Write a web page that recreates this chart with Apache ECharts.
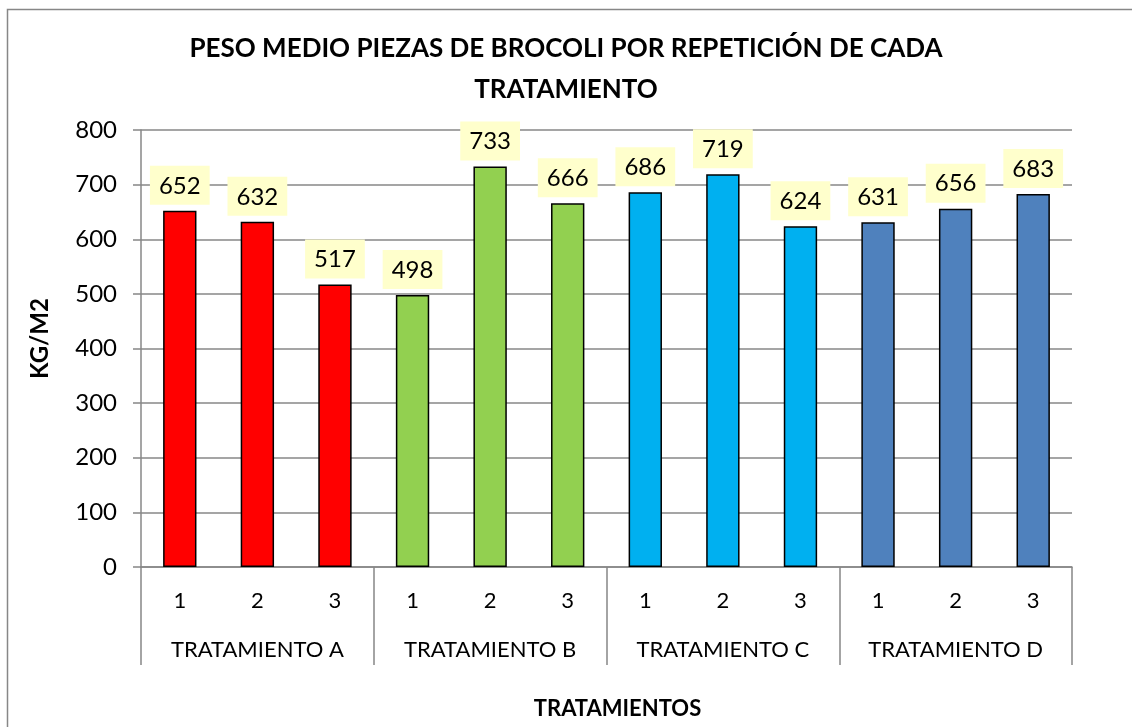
<!DOCTYPE html>
<html>
<head>
<meta charset="utf-8">
<script src="https://cdn.jsdelivr.net/npm/echarts@6/dist/echarts.min.js"></script>
<style>
  html, body { margin: 0; padding: 0; background: #fff; }
  #chart { width: 1132px; height: 727px; }
</style>
</head>
<body>
<div id="chart"></div>
<script>
// datos
const groups = ['TRATAMIENTO A', 'TRATAMIENTO B', 'TRATAMIENTO C', 'TRATAMIENTO D'];
const reps = ['1', '2', '3'];
const valuesA = [652, 632, 517];
const valuesB = [498, 733, 666];
const valuesC = [686, 719, 624];
const valuesD = [631, 656, 683];
const groupColors = ['#FF0000', '#92D050', '#00B0F0', '#4F81BD'];
const yTicks = [0, 100, 200, 300, 400, 500, 600, 700, 800];

const allValues = [valuesA, valuesB, valuesC, valuesD];
const categories = [];
const barData = [];
allValues.forEach(function (vals, g) {
  vals.forEach(function (v, i) {
    categories.push(reps[i]);
    barData.push({ value: v, itemStyle: { color: groupColors[g] } });
  });
});

const FONT = 'Lato, "Open Sans", sans-serif';
const GRAY = '#878787';

const myChart = echarts.init(document.getElementById('chart'));
myChart.setOption({
  animation: false,
  textStyle: { fontFamily: FONT },
  graphic: [{
    type: 'rect',
    shape: { x: 7.5, y: 9.5, width: 1300, height: 900 },
    style: { fill: 'none', stroke: GRAY, lineWidth: 1.5 },
    silent: true
  }],
  title: {
    text: 'PESO MEDIO PIEZAS DE BROCOLI POR REPETICIÓN DE CADA\nTRATAMIENTO',
    left: 'center',
    top: 23,
    textStyle: { fontFamily: FONT, fontSize: 26, fontWeight: 'bold', color: '#000', lineHeight: 41 }
  },
  grid: { left: 141, right: 60, top: 130, bottom: 160, containLabel: false },
  xAxis: [{
    type: 'category',
    data: categories,
    axisLine: { lineStyle: { color: GRAY, width: 1.5 } },
    axisTick: { show: false },
    axisLabel: { color: '#000', fontSize: 22, margin: 23, fontFamily: FONT }
  }, {
    type: 'category',
    data: groups,
    position: 'bottom',
    axisLine: { show: false },
    axisTick: { show: true, length: 98, lineStyle: { color: GRAY, width: 1.5 } },
    axisLabel: { color: '#000', fontSize: 22, margin: 72, fontFamily: FONT },
    name: 'TRATAMIENTOS',
    nameLocation: 'middle',
    nameGap: 131,
    nameTextStyle: { fontSize: 22, fontWeight: 'bold', color: '#000', fontFamily: FONT, padding: [0, 0, 0, 22] }
  }],
  yAxis: {
    type: 'value',
    min: yTicks[0],
    max: yTicks[yTicks.length - 1],
    interval: 100,
    name: 'KG/M2',
    nameLocation: 'middle',
    nameGap: 89,
    nameRotate: 90,
    nameTextStyle: { fontSize: 24, fontWeight: 'bold', color: '#000', fontFamily: FONT, padding: [0, 0, 0, 20] },
    axisLine: { show: true, lineStyle: { color: GRAY, width: 1.5 } },
    axisTick: { show: true, length: 8, lineStyle: { color: GRAY, width: 1.5 } },
    axisLabel: { color: '#000', fontSize: 24, margin: 24, fontFamily: FONT },
    splitLine: { lineStyle: { color: GRAY, width: 1.5 } }
  },
  series: [{
    type: 'bar',
    xAxisIndex: 0,
    data: barData,
    barWidth: '43%',
    itemStyle: { borderColor: '#000', borderWidth: 1.5 },
    label: {
      show: true,
      position: 'top',
      distance: 6,
      color: '#000',
      fontSize: 24,
      fontFamily: FONT,
      backgroundColor: '#FFFFCC',
      padding: [8, 9, 7, 9]
    }
  }]
});
</script>
</body>
</html>
